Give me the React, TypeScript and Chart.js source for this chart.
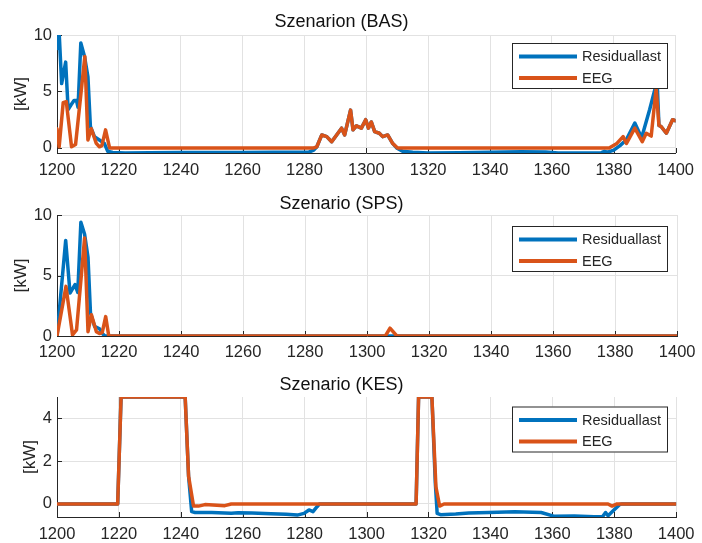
import React, { useEffect, useRef } from "react";
import { Chart, registerables } from "chart.js";

Chart.register(...registerables);

// ---------- data ----------
const xTicks = [1200, 1220, 1240, 1260, 1280, 1300, 1320, 1340, 1360, 1380, 1400];
const yTicksBAS = [0, 5, 10];
const yTicksSPS = [0, 5, 10];
const yTicksKES = [0, 2, 4];
const seriesLabels = ["Residuallast", "EEG"];
const panelTitles = ["Szenarion (BAS)", "Szenario (SPS)", "Szenario (KES)"];
const yAxisLabel = "[kW]";

// Szenarion (BAS)
const basResX = [1200, 1200.7, 1201.5, 1202.8, 1203.6, 1204.5, 1205.5, 1206.3, 1206.8, 1207.7, 1208.9, 1210, 1210.8, 1212.1, 1213.7, 1215.3, 1216.4, 1218, 1222, 1230, 1240, 1250, 1260, 1270, 1280, 1281.5, 1283, 1284, 1285.6, 1287.2, 1288.8, 1290.4, 1292, 1293, 1294.9, 1295.7, 1296.8, 1298.4, 1299.8, 1300.7, 1301.6, 1302.7, 1304.2, 1305.3, 1306.9, 1308.5, 1309.8, 1311.7, 1315, 1320, 1330, 1340, 1350, 1358, 1362, 1370, 1376, 1377, 1378, 1380, 1381, 1382, 1384, 1386.8, 1389, 1391.6, 1393.2, 1394, 1394.6, 1395.3, 1397, 1399, 1400];
const basResY = [8.8, 10.2, 5.7, 7.6, 3.4, 3.8, 4.2, 4.2, 3.6, 9.3, 8.1, 6.3, 1.9, 1.0, 0.7, 0.4, -0.3, -0.4, -0.45, -0.42, -0.4, -0.4, -0.41, -0.39, -0.38, -0.36, -0.2, 0.1, 1.15, 1.0, 0.55, 1.15, 1.75, 1.15, 3.35, 1.6, 1.95, 1.75, 2.5, 1.75, 2.3, 1.45, 1.3, 1.0, 1.15, 0.4, 0.0, -0.3, -0.38, -0.45, -0.42, -0.38, -0.35, -0.37, -0.45, -0.45, -0.42, -0.3, -0.38, -0.2, 0.0, 0.2, 0.7, 2.2, 0.9, 3.4, 5.1, 6.0, 2.0, 1.9, 1.3, 2.5, 2.4];
const basEegX = [1200, 1200.7, 1202, 1203, 1204.7, 1206, 1209, 1210, 1211.1, 1212.7, 1213.7, 1214.5, 1215.7, 1217, 1283, 1284, 1285.6, 1287.2, 1288.8, 1290.4, 1292, 1293, 1294.9, 1295.7, 1296.8, 1298.4, 1299.8, 1300.7, 1301.6, 1302.7, 1304.2, 1305.3, 1306.9, 1308.5, 1310.1, 1378.5, 1381, 1383, 1384.1, 1386.8, 1389.2, 1390.5, 1392.1, 1393.7, 1394.6, 1395.3, 1397, 1399, 1400];
const basEegY = [1.7, 0.1, 4.0, 4.1, 0.1, 0.3, 8.1, 0.7, 1.7, 0.4, 0.1, 0.2, 1.6, 0, 0, 0.1, 1.15, 1.0, 0.55, 1.15, 1.75, 1.15, 3.35, 1.6, 1.95, 1.75, 2.5, 1.75, 2.3, 1.45, 1.3, 1.0, 1.15, 0.4, 0, 0, 0.4, 1.0, 0.4, 1.75, 0.55, 1.3, 1.05, 5.3, 2.0, 1.9, 1.3, 2.5, 2.4];

// Szenario (SPS)
const spsResX = [1200, 1202.8, 1204.2, 1205.8, 1206.7, 1207.7, 1208.9, 1210, 1210.8, 1212.1, 1213.7, 1214.8, 1215.5, 1400];
const spsResY = [0, 7.9, 3.55, 4.25, 3.6, 9.4, 8.4, 6.5, 1.9, 0.8, 0.6, 0.15, 0, 0];
const spsEegX = [1200, 1202.9, 1205, 1206.3, 1208.9, 1210, 1211.1, 1212.7, 1213.7, 1214.6, 1215.7, 1216.7, 1305.9, 1307.4, 1309.6, 1400];
const spsEegY = [0, 4.1, 0.1, 0.5, 8.1, 0.35, 1.75, 0.35, 0.2, 0.3, 1.6, 0, 0, 0.65, 0, 0];

// Szenario (KES)
const kesResX = [1200, 1219.6, 1220.7, 1241.4, 1242.5, 1243.5, 1244.6, 1250, 1256.3, 1258.5, 1263, 1269.1, 1274, 1277.6, 1279.8, 1281.4, 1282.7, 1284, 1284.8, 1316, 1316.8, 1321.1, 1322.2, 1322.8, 1323.9, 1328.8, 1333, 1339.4, 1347.9, 1356.4, 1360.7, 1367.1, 1373.5, 1376.2, 1377.2, 1378, 1379.9, 1381.8, 1382.5, 1400];
const kesResY = [0, 0, 5, 5, 1.3, -0.36, -0.4, -0.4, -0.43, -0.41, -0.42, -0.46, -0.48, -0.52, -0.44, -0.28, -0.36, -0.13, 0, 0, 5, 5, 1.0, -0.44, -0.5, -0.47, -0.42, -0.4, -0.37, -0.4, -0.58, -0.56, -0.6, -0.6, -0.4, -0.55, -0.28, -0.02, 0, 0];
const kesEegX = [1200, 1219.6, 1220.7, 1241.4, 1242.5, 1244.1, 1245.7, 1247.8, 1254.2, 1256.3, 1316, 1316.8, 1321.1, 1322.4, 1323.6, 1325, 1378, 1379.3, 1380.9, 1400];
const kesEegY = [0, 0, 5, 5, 1.3, -0.1, -0.1, -0.03, -0.08, 0, 0, 5, 5, 0.8, -0.1, 0, 0, -0.1, 0, 0];

// ---------- style ----------
const FONT = "'Liberation Sans', Arial, Helvetica, sans-serif";
const BLUE = "#0072BD";
const ORANGE = "#D95319";
const AXIS = "#262626";
const GRID = "#e2e2e2";

type Panel = {
  title: string;
  resX: number[];
  resY: number[];
  eegX: number[];
  eegY: number[];
  yMin: number;
  yMax: number;
  yTicks: number[];
  top: number;
  height: number;
  titleTop: number;
  titleBottom: number;
  xAxisHeight: number;
  xLabelPad: number;
  yTitlePad: number;
  legendTop: number;
};

const panels: Panel[] = [
  { title: panelTitles[0], resX: basResX, resY: basResY, eegX: basEegX, eegY: basEegY, yMin: -0.45, yMax: 10, yTicks: yTicksBAS, top: 0, height: 180, titleTop: 11.2, titleBottom: 2.2, xAxisHeight: 27, xLabelPad: 8, yTitlePad: 11.3, legendTop: 43 },
  { title: panelTitles[1], resX: spsResX, resY: spsResY, eegX: spsEegX, eegY: spsEegY, yMin: 0, yMax: 10, yTicks: yTicksSPS, top: 180, height: 180, titleTop: 13.4, titleBottom: 0, xAxisHeight: 24, xLabelPad: 6.5, yTitlePad: 11.3, legendTop: 46 },
  { title: panelTitles[2], resX: kesResX, resY: kesResY, eegX: kesEegX, eegY: kesEegY, yMin: -0.61, yMax: 5, yTicks: yTicksKES, top: 360, height: 183, titleTop: 14.2, titleBottom: 1.2, xAxisHeight: 26, xLabelPad: 7.5, yTitlePad: 19.8, legendTop: 46.5 },
];

const decorPlugin = {
  id: "panelDecor",
  beforeDatasetsDraw(chart: any) {
    const { ctx, chartArea, scales } = chart;
    const x = scales.x;
    const y = scales.y;
    ctx.save();
    ctx.strokeStyle = AXIS;
    ctx.lineWidth = 1;
    ctx.beginPath();
    for (const t of x.ticks) {
      const px = Math.round(x.getPixelForValue(t.value)) + 0.5;
      ctx.moveTo(px, chartArea.bottom);
      ctx.lineTo(px, chartArea.bottom - 5);
    }
    for (const t of y.ticks) {
      const py = Math.round(y.getPixelForValue(t.value)) + 0.5;
      ctx.moveTo(chartArea.left, py);
      ctx.lineTo(chartArea.left + 5, py);
    }
    ctx.stroke();
    ctx.restore();
  },
  afterDraw(chart: any, _args: any, opts: any) {
    const { ctx } = chart;
    const bx = 512;
    const by = opts.legendTop;
    const bw = 156;
    const bh = 46;
    ctx.save();
    ctx.fillStyle = "#ffffff";
    ctx.fillRect(bx, by, bw, bh);
    ctx.strokeStyle = AXIS;
    ctx.lineWidth = 1;
    ctx.strokeRect(bx + 0.5, by + 0.5, bw - 1, bh - 1);
    const rows = [by + 13.5, by + 35];
    chart.data.datasets.forEach((ds: any, i: number) => {
      const ry = rows[i];
      ctx.strokeStyle = ds.borderColor;
      ctx.lineWidth = 4;
      ctx.beginPath();
      ctx.moveTo(bx + 7, ry);
      ctx.lineTo(bx + 65, ry);
      ctx.stroke();
      ctx.fillStyle = AXIS;
      ctx.font = `14.5px ${FONT}`;
      ctx.textBaseline = "middle";
      ctx.textAlign = "left";
      ctx.fillText(ds.label, bx + 70, ry + 0.5);
    });
    ctx.restore();
  },
};

function toPoints(xs: number[], ys: number[]) {
  return xs.map((x, i) => ({ x, y: ys[i] }));
}

function PanelChart({ p }: { p: Panel }) {
  const ref = useRef<HTMLCanvasElement | null>(null);
  useEffect(() => {
    if (!ref.current) return;
    const chart = new Chart(ref.current, {
      type: "line",
      data: {
        datasets: [
          {
            label: seriesLabels[0],
            data: toPoints(p.resX, p.resY),
            borderColor: BLUE,
            backgroundColor: BLUE,
            borderWidth: 3.5,
            pointRadius: 0,
            tension: 0,
            borderJoinStyle: "round",
            borderCapStyle: "round",
            order: 1,
          },
          {
            label: seriesLabels[1],
            data: toPoints(p.eegX, p.eegY),
            borderColor: ORANGE,
            backgroundColor: ORANGE,
            borderWidth: 3.5,
            pointRadius: 0,
            tension: 0,
            borderJoinStyle: "round",
            borderCapStyle: "round",
            order: 0,
          },
        ],
      },
      options: {
        animation: false,
        responsive: false,
        devicePixelRatio: 1,
        events: [],
        layout: { padding: { left: 0, right: 19, top: 0, bottom: 0 } },
        plugins: {
          legend: { display: false },
          tooltip: { enabled: false },
          title: {
            display: true,
            text: p.title,
            color: "#111111",
            font: { size: 18, family: FONT, weight: "normal" },
            padding: { top: p.titleTop, bottom: p.titleBottom },
          },
          panelDecor: { legendTop: p.legendTop },
        } as any,
        scales: {
          x: {
            type: "linear",
            min: 1200,
            max: 1400,
            afterBuildTicks: (scale: any) => {
              scale.ticks = xTicks.map((v) => ({ value: v }));
            },
            afterFit: (scale: any) => {
              scale.height = p.xAxisHeight;
            },
            ticks: {
              color: AXIS,
              font: { size: 16.5, family: FONT },
              padding: p.xLabelPad,
              maxRotation: 0,
              autoSkip: false,
              callback: (v: any) => String(v),
            },
            grid: { color: GRID, lineWidth: 1, drawTicks: false },
            border: { display: true, color: AXIS, width: 1 },
          },
          y: {
            type: "linear",
            min: p.yMin,
            max: p.yMax,
            afterBuildTicks: (scale: any) => {
              scale.ticks = p.yTicks.map((v) => ({ value: v }));
            },
            afterFit: (scale: any) => {
              scale.width = 57;
            },
            ticks: {
              color: AXIS,
              font: { size: 16.5, family: FONT },
              padding: 5,
              autoSkip: false,
              callback: (v: any) => String(v),
            },
            grid: { color: GRID, lineWidth: 1, drawTicks: false },
            border: { display: true, color: AXIS, width: 1 },
            title: {
              display: true,
              text: yAxisLabel,
              color: AXIS,
              font: { size: 17, family: FONT },
              padding: { top: p.yTitlePad, bottom: 0 },
            },
          },
        },
      } as any,
      plugins: [decorPlugin as any],
    });
    return () => chart.destroy();
  }, [p]);
  return (
    <canvas
      ref={ref}
      width={702}
      height={p.height}
      style={{ position: "absolute", left: 0, top: p.top, width: 702, height: p.height, display: "block" }}
    />
  );
}

export default function App() {
  return (
    <div style={{ position: "absolute", left: 0, top: 0, width: 702, height: 543, background: "#ffffff", overflow: "hidden" }}>
      {panels.map((p, i) => (
        <PanelChart key={i} p={p} />
      ))}
    </div>
  );
}
